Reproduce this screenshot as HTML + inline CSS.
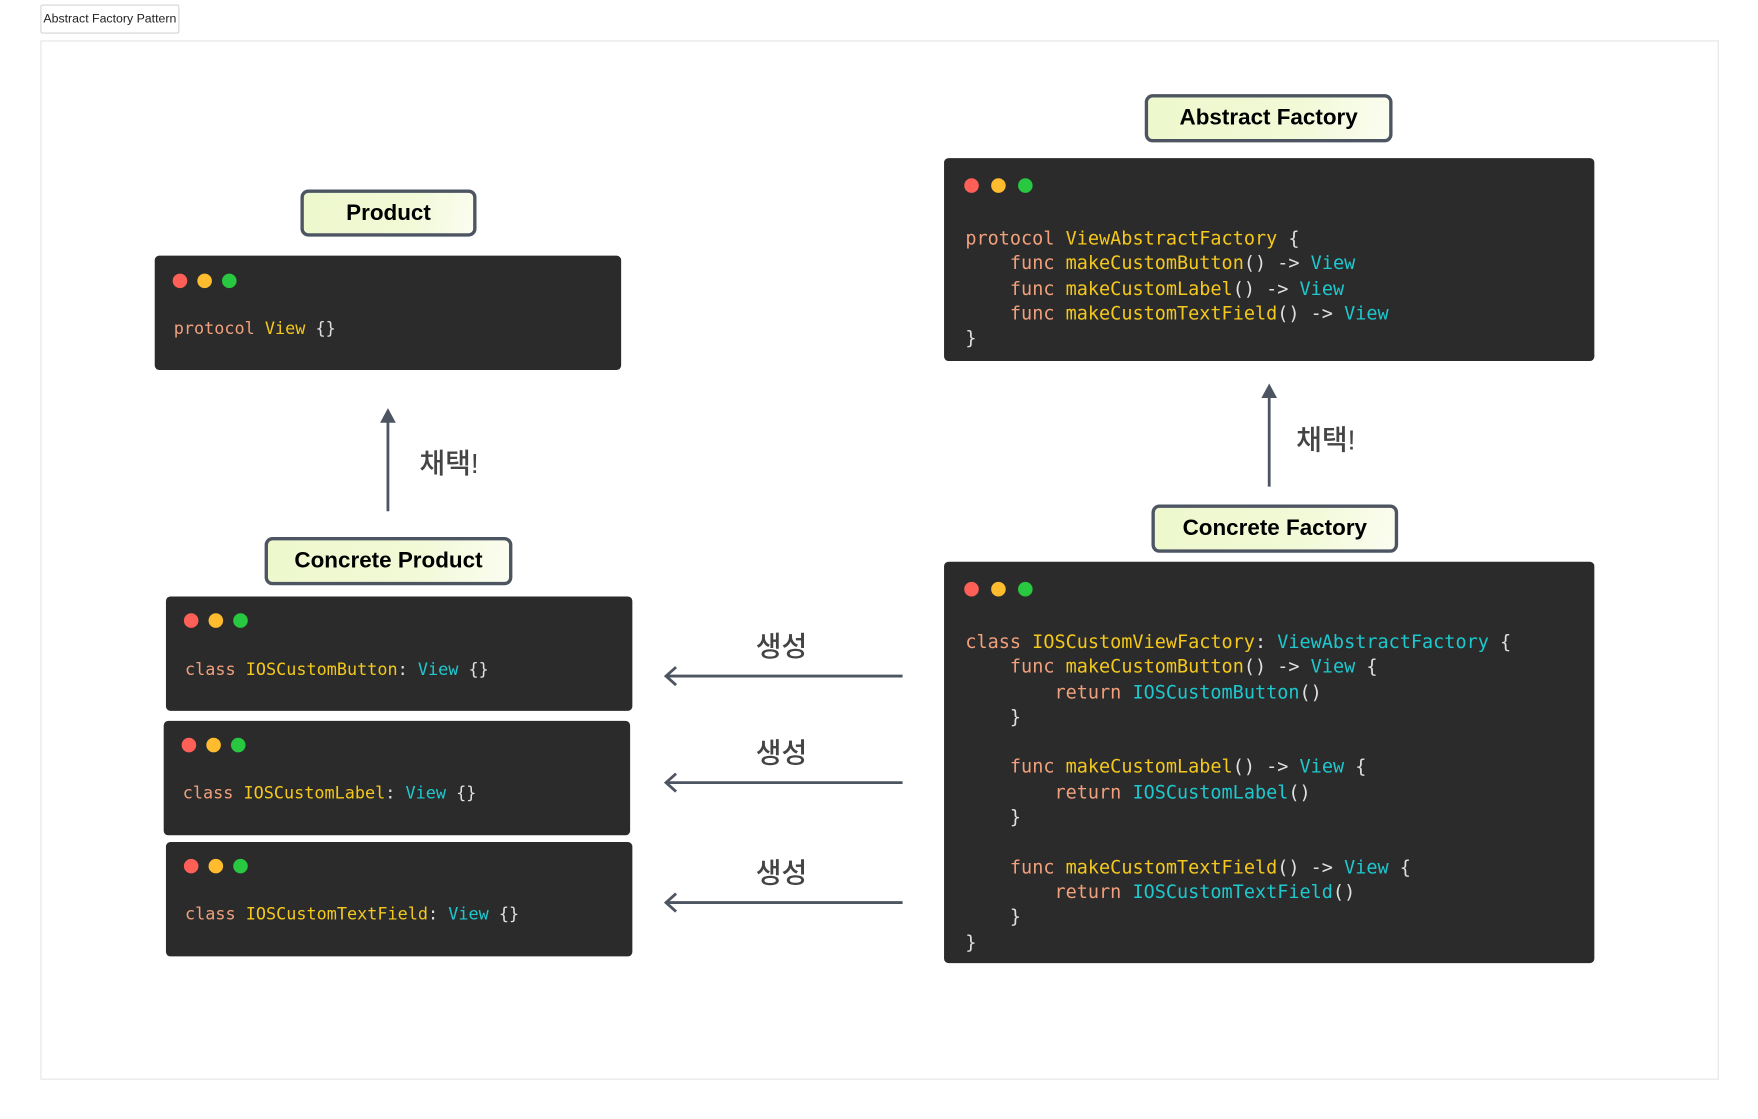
<!DOCTYPE html>
<html><head><meta charset="utf-8"><style>
html,body{margin:0;padding:0;background:#fff;width:1758px;height:1119px;overflow:hidden}
#w{position:absolute;left:0;top:0;width:1563px;height:995px;transform:scale(1.1212);transform-origin:0 0;font-family:"Liberation Sans","Noto Sans CJK KR",sans-serif}
.a{position:absolute}
.lbl{position:absolute;box-sizing:border-box;border:3px solid #4d5562;border-radius:7px;background:linear-gradient(100deg,#eef8cc 0%,#f1f9d6 60%,#fbfdf0 100%);font-weight:bold;font-size:20px;color:#000;display:flex;align-items:center;justify-content:center}
.code{position:absolute;background:#2b2b2b;border-radius:4px;font-family:"DejaVu Sans Mono","Liberation Mono",monospace;color:#e0e0e0;white-space:pre}
.d{position:absolute;width:13px;height:13px;border-radius:50%}
.r{background:#fe5f57}.y{background:#febc2e}.g{background:#28c840}
.k{color:#f0a07c}.t{color:#f4c81c}.c{color:#1dc8cf}
.ln{position:absolute;left:19px;line-height:22.3px}
.kr{position:absolute;font-size:25px;color:#444;font-weight:500}
</style></head><body><div id="w">
<div class="a" style="left:36px;top:4px;width:122px;height:24px;border:1px solid #d4d4d4;border-radius:2px;font-size:11px;line-height:24px;text-align:center;color:#222">Abstract Factory Pattern</div>
<div class="a" style="left:36px;top:36px;width:1495px;height:925px;border:1px solid #e6e6e6"></div>

<div class="lbl" style="left:268px;top:169px;width:157px;height:42px">Product</div>
<div class="code" style="left:138px;top:228px;width:416px;height:102px;font-size:15px">
<div class="d r" style="left:16px;top:16px"></div><div class="d y" style="left:38px;top:16px"></div><div class="d g" style="left:60px;top:16px"></div>
<div class="ln" style="left:17px;top:54px"><span class="k">protocol</span> <span class="t">View</span> {}</div></div>

<div class="lbl" style="left:236px;top:479px;width:221px;height:43px">Concrete Product</div>
<div class="code" style="left:148px;top:532px;width:416px;height:102px;font-size:15px">
<div class="d r" style="left:16px;top:15px"></div><div class="d y" style="left:38px;top:15px"></div><div class="d g" style="left:60px;top:15px"></div>
<div class="ln" style="left:17px;top:54px"><span class="k">class</span> <span class="t">IOSCustomButton</span>: <span class="c">View</span> {}</div></div>
<div class="code" style="left:146px;top:643px;width:416px;height:102px;font-size:15px">
<div class="d r" style="left:16px;top:15px"></div><div class="d y" style="left:38px;top:15px"></div><div class="d g" style="left:60px;top:15px"></div>
<div class="ln" style="left:17px;top:53px"><span class="k">class</span> <span class="t">IOSCustomLabel</span>: <span class="c">View</span> {}</div></div>
<div class="code" style="left:148px;top:751px;width:416px;height:102px;font-size:15px">
<div class="d r" style="left:16px;top:15px"></div><div class="d y" style="left:38px;top:15px"></div><div class="d g" style="left:60px;top:15px"></div>
<div class="ln" style="left:17px;top:53px"><span class="k">class</span> <span class="t">IOSCustomTextField</span>: <span class="c">View</span> {}</div></div>

<div class="lbl" style="left:1021px;top:84px;width:221px;height:43px">Abstract Factory</div>
<div class="code" style="left:842px;top:141px;width:580px;height:181px;font-size:16.5px">
<div class="d r" style="left:18px;top:18px"></div><div class="d y" style="left:42px;top:18px"></div><div class="d g" style="left:66px;top:18px"></div>
<div class="ln" style="top:61px"><span class="k">protocol</span> <span class="t">ViewAbstractFactory</span> {
    <span class="k">func</span> <span class="t">makeCustomButton</span>() -> <span class="c">View</span>
    <span class="k">func</span> <span class="t">makeCustomLabel</span>() -> <span class="c">View</span>
    <span class="k">func</span> <span class="t">makeCustomTextField</span>() -> <span class="c">View</span>
}</div></div>

<div class="lbl" style="left:1027px;top:450px;width:220px;height:43px">Concrete Factory</div>
<div class="code" style="left:842px;top:501px;width:580px;height:358px;font-size:16.5px">
<div class="d r" style="left:18px;top:18px"></div><div class="d y" style="left:42px;top:18px"></div><div class="d g" style="left:66px;top:18px"></div>
<div class="ln" style="top:61px"><span class="k">class</span> <span class="t">IOSCustomViewFactory</span>: <span class="c">ViewAbstractFactory</span> {
    <span class="k">func</span> <span class="t">makeCustomButton</span>() -> <span class="c">View</span> {
        <span class="k">return</span> <span class="c">IOSCustomButton</span>()
    }

    <span class="k">func</span> <span class="t">makeCustomLabel</span>() -> <span class="c">View</span> {
        <span class="k">return</span> <span class="c">IOSCustomLabel</span>()
    }

    <span class="k">func</span> <span class="t">makeCustomTextField</span>() -> <span class="c">View</span> {
        <span class="k">return</span> <span class="c">IOSCustomTextField</span>()
    }
}</div></div>

<svg class="a" style="left:0;top:0" width="1563" height="995">
<g stroke="#4d5562" stroke-width="2.5" fill="none">
<line x1="346" y1="456" x2="346" y2="372"/>
<line x1="1132" y1="434" x2="1132" y2="351"/>
<line x1="805" y1="603" x2="594" y2="603"/><polyline points="603,595 594,603 603,611"/>
<line x1="805" y1="698" x2="594" y2="698"/><polyline points="603,690 594,698 603,706"/>
<line x1="805" y1="805" x2="594" y2="805"/><polyline points="603,797 594,805 603,813"/>
</g>
<polygon points="346,364 339,377 353,377" fill="#4d5562"/>
<polygon points="1132,342 1125,355 1139,355" fill="#4d5562"/>
</svg>
<div class="kr" style="left:374px;top:394px">채택!</div>
<div class="kr" style="left:1156px;top:373px">채택!</div>
<div class="kr" style="left:674px;top:557px">생성</div>
<div class="kr" style="left:674px;top:652px">생성</div>
<div class="kr" style="left:674px;top:759px">생성</div>
</div></body></html>
